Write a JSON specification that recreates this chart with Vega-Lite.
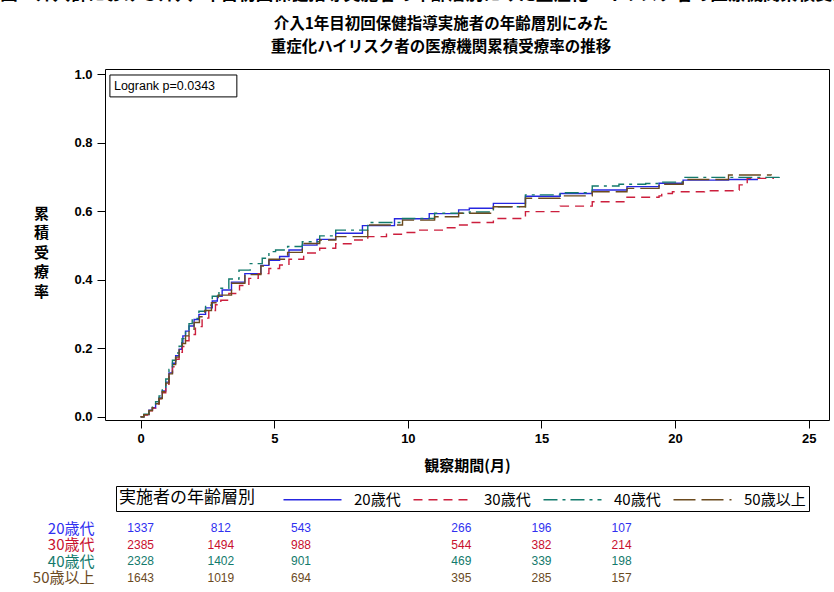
{
  "$schema": "https://vega.github.io/schema/vega-lite/v6.json",
  "background": "white",
  "padding": {"left": 0, "top": -14, "right": 0, "bottom": 0},
  "title": {"text": "図．介入群における介入1年目初回保健指導実施者の年齢層別にみた重症化ハイリスク者の医療機関累積受療率の推移", "anchor": "start", "frame": "bounds", "font": "Noto Sans CJK JP", "fontSize": 17.5, "fontWeight": "bold", "dx": -32, "offset": 13, "color": "#000"},
  "datasets": {
    "curves": [
      {"g":"20歳代","t":0,"v":0},{"g":"20歳代","t":0.12,"v":0.006},{"g":"20歳代","t":0.31,"v":0.019},{"g":"20歳代","t":0.44,"v":0.026},{"g":"20歳代","t":0.56,"v":0.039},{"g":"20歳代","t":0.69,"v":0.055},{"g":"20歳代","t":0.81,"v":0.075},{"g":"20歳代","t":0.94,"v":0.101},{"g":"20歳代","t":1.06,"v":0.128},{"g":"20歳代","t":1.19,"v":0.156},{"g":"20歳代","t":1.31,"v":0.178},{"g":"20歳代","t":1.44,"v":0.197},{"g":"20歳代","t":1.54,"v":0.216},{"g":"20歳代","t":1.58,"v":0.236},{"g":"20歳代","t":1.68,"v":0.25},{"g":"20歳代","t":1.81,"v":0.265},{"g":"20歳代","t":2.0,"v":0.284},{"g":"20歳代","t":2.18,"v":0.299},{"g":"20歳代","t":2.43,"v":0.318},{"g":"20歳代","t":2.68,"v":0.338},{"g":"20歳代","t":2.87,"v":0.352},{"g":"20歳代","t":3.05,"v":0.37},{"g":"20歳代","t":3.4,"v":0.393},{"g":"20歳代","t":3.9,"v":0.418},{"g":"20歳代","t":4.5,"v":0.442},{"g":"20歳代","t":4.8,"v":0.457},{"g":"20歳代","t":5.2,"v":0.468},{"g":"20歳代","t":5.55,"v":0.487},{"g":"20歳代","t":6.05,"v":0.501},{"g":"20歳代","t":6.6,"v":0.518},{"g":"20歳代","t":7.3,"v":0.536},{"g":"20歳代","t":8.3,"v":0.558},{"g":"20歳代","t":9.5,"v":0.578},{"g":"20歳代","t":10.8,"v":0.593},{"g":"20歳代","t":11.9,"v":0.604},{"g":"20歳代","t":12.3,"v":0.609},{"g":"20歳代","t":13.2,"v":0.623},{"g":"20歳代","t":14.4,"v":0.644},{"g":"20歳代","t":15.7,"v":0.652},{"g":"20歳代","t":16.9,"v":0.662},{"g":"20歳代","t":18.2,"v":0.672},{"g":"20歳代","t":19.4,"v":0.682},{"g":"20歳代","t":20.3,"v":0.691},{"g":"20歳代","t":22.0,"v":0.693},{"g":"20歳代","t":23.1,"v":0.693},
      {"g":"30歳代","t":0,"v":0},{"g":"30歳代","t":0.12,"v":0.005},{"g":"30歳代","t":0.31,"v":0.017},{"g":"30歳代","t":0.44,"v":0.025},{"g":"30歳代","t":0.56,"v":0.037},{"g":"30歳代","t":0.69,"v":0.052},{"g":"30歳代","t":0.81,"v":0.07},{"g":"30歳代","t":0.94,"v":0.095},{"g":"30歳代","t":1.06,"v":0.12},{"g":"30歳代","t":1.19,"v":0.146},{"g":"30歳代","t":1.31,"v":0.168},{"g":"30歳代","t":1.44,"v":0.188},{"g":"30歳代","t":1.56,"v":0.205},{"g":"30歳代","t":1.68,"v":0.222},{"g":"30歳代","t":1.81,"v":0.24},{"g":"30歳代","t":2.05,"v":0.263},{"g":"30歳代","t":2.3,"v":0.288},{"g":"30歳代","t":2.55,"v":0.31},{"g":"30歳代","t":2.8,"v":0.327},{"g":"30歳代","t":3.0,"v":0.34},{"g":"30歳代","t":3.3,"v":0.36},{"g":"30歳代","t":3.7,"v":0.383},{"g":"30歳代","t":4.05,"v":0.404},{"g":"30歳代","t":4.4,"v":0.418},{"g":"30歳代","t":4.8,"v":0.433},{"g":"30歳代","t":5.2,"v":0.443},{"g":"30歳代","t":5.55,"v":0.46},{"g":"30歳代","t":6.1,"v":0.478},{"g":"30歳代","t":6.7,"v":0.492},{"g":"30歳代","t":7.3,"v":0.505},{"g":"30歳代","t":7.9,"v":0.516},{"g":"30歳代","t":8.5,"v":0.526},{"g":"30歳代","t":9.2,"v":0.533},{"g":"30歳代","t":9.8,"v":0.538},{"g":"30歳代","t":10.4,"v":0.545},{"g":"30歳代","t":11.4,"v":0.552},{"g":"30歳代","t":11.9,"v":0.56},{"g":"30歳代","t":12.3,"v":0.567},{"g":"30歳代","t":13.2,"v":0.579},{"g":"30歳代","t":14.4,"v":0.599},{"g":"30歳代","t":15.7,"v":0.615},{"g":"30歳代","t":16.9,"v":0.628},{"g":"30歳代","t":18.2,"v":0.641},{"g":"30歳代","t":19.4,"v":0.645},{"g":"30歳代","t":19.5,"v":0.652},{"g":"30歳代","t":19.9,"v":0.657},{"g":"30歳代","t":21.1,"v":0.66},{"g":"30歳代","t":22.3,"v":0.662},{"g":"30歳代","t":22.4,"v":0.677},{"g":"30歳代","t":22.7,"v":0.696},{"g":"30歳代","t":23.7,"v":0.696},
      {"g":"40歳代","t":0,"v":0},{"g":"40歳代","t":0.12,"v":0.007},{"g":"40歳代","t":0.31,"v":0.021},{"g":"40歳代","t":0.44,"v":0.03},{"g":"40歳代","t":0.56,"v":0.044},{"g":"40歳代","t":0.69,"v":0.061},{"g":"40歳代","t":0.81,"v":0.083},{"g":"40歳代","t":0.94,"v":0.11},{"g":"40歳代","t":1.06,"v":0.138},{"g":"40歳代","t":1.19,"v":0.165},{"g":"40歳代","t":1.31,"v":0.186},{"g":"40歳代","t":1.44,"v":0.206},{"g":"40歳代","t":1.55,"v":0.228},{"g":"40歳代","t":1.68,"v":0.254},{"g":"40歳代","t":1.81,"v":0.272},{"g":"40歳代","t":1.93,"v":0.287},{"g":"40歳代","t":2.18,"v":0.308},{"g":"40歳代","t":2.43,"v":0.326},{"g":"40歳代","t":2.68,"v":0.352},{"g":"40歳代","t":2.93,"v":0.375},{"g":"40歳代","t":3.3,"v":0.402},{"g":"40歳代","t":3.68,"v":0.428},{"g":"40歳代","t":4.1,"v":0.447},{"g":"40歳代","t":4.55,"v":0.463},{"g":"40歳代","t":4.8,"v":0.482},{"g":"40歳代","t":5.05,"v":0.487},{"g":"40歳代","t":5.5,"v":0.497},{"g":"40歳代","t":6.05,"v":0.511},{"g":"40歳代","t":6.7,"v":0.528},{"g":"40歳代","t":7.3,"v":0.545},{"g":"40歳代","t":8.5,"v":0.567},{"g":"40歳代","t":9.8,"v":0.579},{"g":"40歳代","t":11.0,"v":0.594},{"g":"40歳代","t":12.3,"v":0.598},{"g":"40歳代","t":13.2,"v":0.613},{"g":"40歳代","t":14.4,"v":0.648},{"g":"40歳代","t":15.7,"v":0.654},{"g":"40歳代","t":16.9,"v":0.674},{"g":"40歳代","t":17.9,"v":0.679},{"g":"40歳代","t":18.9,"v":0.681},{"g":"40歳代","t":19.4,"v":0.685},{"g":"40歳代","t":20.3,"v":0.699},{"g":"40歳代","t":23.9,"v":0.701},
      {"g":"50歳以上","t":0,"v":0},{"g":"50歳以上","t":0.12,"v":0.006},{"g":"50歳以上","t":0.31,"v":0.018},{"g":"50歳以上","t":0.44,"v":0.026},{"g":"50歳以上","t":0.56,"v":0.038},{"g":"50歳以上","t":0.69,"v":0.053},{"g":"50歳以上","t":0.81,"v":0.073},{"g":"50歳以上","t":0.94,"v":0.098},{"g":"50歳以上","t":1.06,"v":0.125},{"g":"50歳以上","t":1.19,"v":0.152},{"g":"50歳以上","t":1.31,"v":0.174},{"g":"50歳以上","t":1.44,"v":0.195},{"g":"50歳以上","t":1.56,"v":0.214},{"g":"50歳以上","t":1.68,"v":0.236},{"g":"50歳以上","t":1.81,"v":0.255},{"g":"50歳以上","t":2.0,"v":0.275},{"g":"50歳以上","t":2.2,"v":0.292},{"g":"50歳以上","t":2.4,"v":0.31},{"g":"50歳以上","t":2.65,"v":0.333},{"g":"50歳以上","t":2.9,"v":0.355},{"g":"50歳以上","t":3.4,"v":0.39},{"g":"50歳以上","t":3.9,"v":0.415},{"g":"50歳以上","t":4.5,"v":0.44},{"g":"50歳以上","t":4.8,"v":0.46},{"g":"50歳以上","t":5.5,"v":0.48},{"g":"50歳以上","t":6.05,"v":0.506},{"g":"50歳以上","t":6.7,"v":0.516},{"g":"50歳以上","t":7.3,"v":0.526},{"g":"50歳以上","t":8.5,"v":0.56},{"g":"50歳以上","t":9.8,"v":0.574},{"g":"50歳以上","t":11.0,"v":0.584},{"g":"50歳以上","t":11.9,"v":0.594},{"g":"50歳以上","t":13.2,"v":0.613},{"g":"50歳以上","t":14.4,"v":0.638},{"g":"50歳以上","t":15.7,"v":0.645},{"g":"50歳以上","t":16.9,"v":0.657},{"g":"50歳以上","t":18.2,"v":0.667},{"g":"50歳以上","t":19.4,"v":0.679},{"g":"50歳以上","t":20.3,"v":0.693},{"g":"50歳以上","t":22.0,"v":0.706},{"g":"50歳以上","t":23.6,"v":0.705}
    ],
    "risk": [
      {"g":"20歳代","t":0,"n":1337},{"g":"20歳代","t":3,"n":812},{"g":"20歳代","t":6,"n":543},{"g":"20歳代","t":12,"n":266},{"g":"20歳代","t":15,"n":196},{"g":"20歳代","t":18,"n":107},
      {"g":"30歳代","t":0,"n":2385},{"g":"30歳代","t":3,"n":1494},{"g":"30歳代","t":6,"n":988},{"g":"30歳代","t":12,"n":544},{"g":"30歳代","t":15,"n":382},{"g":"30歳代","t":18,"n":214},
      {"g":"40歳代","t":0,"n":2328},{"g":"40歳代","t":3,"n":1402},{"g":"40歳代","t":6,"n":901},{"g":"40歳代","t":12,"n":469},{"g":"40歳代","t":15,"n":339},{"g":"40歳代","t":18,"n":198},
      {"g":"50歳以上","t":0,"n":1643},{"g":"50歳以上","t":3,"n":1019},{"g":"50歳以上","t":6,"n":694},{"g":"50歳以上","t":12,"n":395},{"g":"50歳以上","t":15,"n":285},{"g":"50歳以上","t":18,"n":157}
    ]
  },
  "bounds": "flush",
  "spacing": 100,
  "resolve": {"scale": {"x": "independent", "y": "independent", "color": "independent"}, "legend": {"color": "independent", "strokeDash": "independent"}},
  "vconcat": [
    {
      "width": 724,
      "height": 351,
      "title": {"text": ["介入1年目初回保健指導実施者の年齢層別にみた", "重症化ハイリスク者の医療機関累積受療率の推移"], "fontSize": 15.5, "lineHeight": 22.5, "fontWeight": "bold", "font": "Noto Sans CJK JP", "anchor": "middle", "dx": -26, "offset": 13, "color": "#000"},
      "layer": [
        {
          "data": {"name": "curves"},
          "mark": {"type": "line", "interpolate": "step-after", "strokeWidth": 1.4, "clip": true},
          "encoding": {
            "x": {"field": "t", "type": "quantitative", "scale": {"domain": [-1.334, 25.76], "nice": false, "zero": false},
                  "axis": {"title": "観察期間(月)", "values": [0,5,10,15,20,25], "format": "d", "tickSize": 8, "domain": false, "grid": false, "labelFont": "Liberation Sans", "labelFontWeight": "bold", "labelFontSize": 13, "labelPadding": 4, "titleFont": "Noto Sans CJK JP", "titleFontSize": 15, "titleFontWeight": "bold", "titlePadding": 13, "tickColor": "#000", "labelColor": "#000", "titleColor": "#000"}},
            "y": {"field": "v", "type": "quantitative", "scale": {"domain": [-0.0096, 1.0155], "nice": false, "zero": false},
                  "axis": {"title": ["累","積","受","療","率"], "values": [0,0.2,0.4,0.6,0.8,1.0], "format": ".1f", "tickSize": 8, "domain": false, "grid": false, "labelFont": "Liberation Sans", "labelFontWeight": "bold", "labelFontSize": 13, "labelPadding": 5, "titleFont": "Noto Sans CJK JP", "titleFontSize": 15, "titleFontWeight": "bold", "titleAngle": 0, "titleAlign": "center", "titleBaseline": "middle", "titleLineHeight": 19.5, "titleX": -64, "titleY": 144, "tickColor": "#000", "labelColor": "#000", "titleColor": "#000"}},
            "color": {"field": "g", "type": "nominal", "scale": {"domain": ["20歳代","30歳代","40歳代","50歳以上"], "range": ["#2626E0","#CC1F3D","#137A6C","#6B4A1E"]}, "legend": {"title": "実施者の年齢層別", "orient": "none", "legendX": 11, "legendY": 417}},
            "strokeDash": {"field": "g", "type": "nominal", "scale": {"domain": ["20歳代","30歳代","40歳代","50歳以上"], "range": [[1,0],[9,6],[14,5,3,5],[22,6]]}, "legend": {"title": "実施者の年齢層別", "orient": "none", "legendX": 11, "legendY": 417}}
          }
        },
        {
          "data": {"values": [{}]},
          "mark": {"type": "rect", "fill": "white", "stroke": "#000", "strokeWidth": 1},
          "encoding": {"x": {"datum": -1.15}, "x2": {"datum": 3.6}, "y": {"datum": 0.998}, "y2": {"datum": 0.934}}
        },
        {
          "data": {"values": [{}]},
          "mark": {"type": "text", "align": "left", "baseline": "middle", "fontSize": 12.5, "font": "Liberation Sans", "color": "#000"},
          "encoding": {"x": {"datum": -1.0}, "y": {"datum": 0.966}, "text": {"value": "Logrank p=0.0343"}}
        }
      ]
    },
    {
      "width": 724,
      "height": 66,
      "view": {"stroke": null},
      "data": {"name": "risk"},
      "mark": {"type": "text", "fontSize": 12, "font": "Liberation Sans", "baseline": "middle"},
      "encoding": {
        "x": {"field": "t", "type": "quantitative", "scale": {"domain": [-1.334, 25.76], "nice": false, "zero": false}, "axis": null},
        "y": {"field": "g", "type": "nominal", "sort": ["20歳代","30歳代","40歳代","50歳以上"],
              "axis": {"title": null, "domain": false, "ticks": false, "labelPadding": 11, "labelFontSize": 15, "labelFont": "Noto Sans CJK JP",
                       "labelColor": {"condition": [{"test": "datum.value === '20歳代'", "value": "#3030F0"}, {"test": "datum.value === '30歳代'", "value": "#C8102E"}, {"test": "datum.value === '40歳代'", "value": "#137A6C"}], "value": "#6B4A1E"}}},
        "text": {"field": "n", "type": "quantitative", "format": "d"},
        "color": {"field": "g", "type": "nominal", "scale": {"domain": ["20歳代","30歳代","40歳代","50歳以上"], "range": ["#3030F0","#C8102E","#137A6C","#6B4A1E"]}, "legend": null}
      }
    }
  ],
  "config": {
    "font": "Noto Sans CJK JP",
    "view": {"stroke": "#000", "strokeWidth": 1},
    "legend": {
      "direction": "horizontal", "titleOrient": "left", "titleAnchor": "middle", "titleBaseline": "middle",
      "strokeColor": "#000", "padding": 3,
      "symbolType": "M-3,0H3", "symbolSize": 374, "symbolStrokeWidth": 1.5, "symbolOffset": 19,
      "labelFont": "Noto Sans CJK JP", "labelFontSize": 15, "labelColor": "#000", "labelOffset": 31, "labelLimit": 200,
      "titleFont": "Noto Sans CJK JP", "titleFontSize": 17, "titleFontWeight": "normal", "titleColor": "#000", "titlePadding": 28, "titleLimit": 300,
      "columnPadding": 9
    }
  }
}
